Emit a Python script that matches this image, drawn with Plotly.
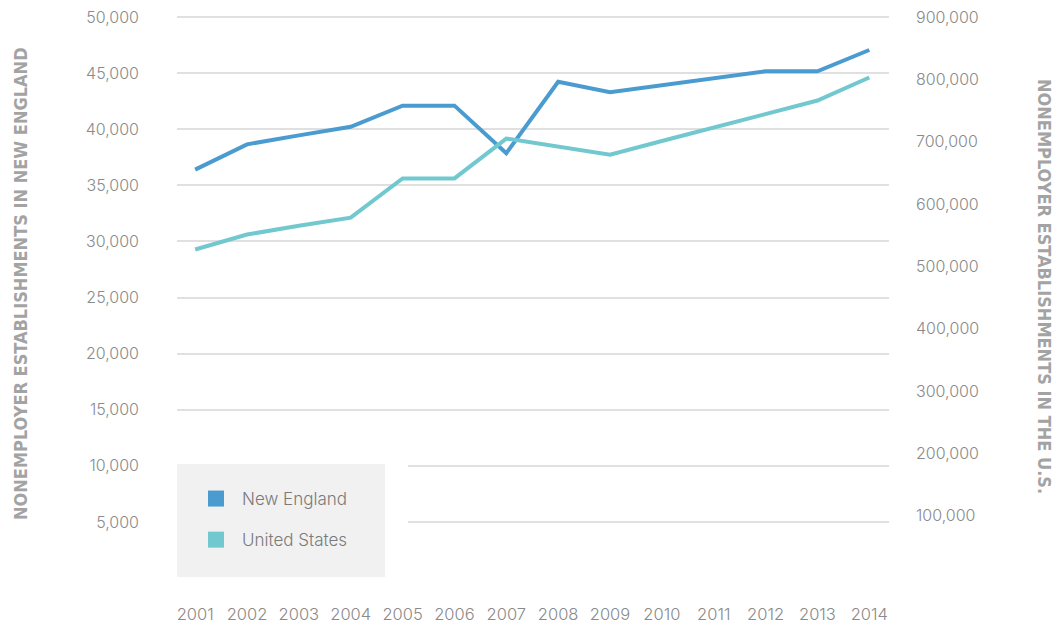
import plotly.graph_objects as go

years = [2001, 2002, 2003, 2004, 2005, 2006, 2007, 2008, 2009, 2010, 2011, 2012, 2013, 2014]
new_england = [36400, 38650, 39450, 40220, 42100, 42100, 37850, 44230, 43290, 43910, 44530, 45160, 45160, 47060]
united_states = [527000, 551000, 565000, 578000, 641000, 641000, 705000, 692000, 679000, 701000, 723000, 745000, 766000, 803000]

left_ticks = [0, 5000, 10000, 15000, 20000, 25000, 30000, 35000, 40000, 45000, 50000]
left_text = [""] + [f"{v:,}" for v in left_ticks[1:]]
right_ticks = [0, 100000, 200000, 300000, 400000, 500000, 600000, 700000, 800000, 900000]
right_text = [""] + [f"{v:,}" for v in right_ticks[1:]]

NE_COLOR = "#4a9bcf"
US_COLOR = "#72c8cf"
TICK_COLOR = "#8a8a8a"
TITLE_COLOR = "#a3a3a3"
FONT = "Inter, Lato, 'Open Sans', sans-serif"
TITLE_FONT = "'DejaVu Sans Condensed', 'Liberation Sans Narrow', 'Open Sans', sans-serif"

fig = go.Figure()
fig.add_trace(go.Scatter(x=years, y=new_england, mode="lines", line=dict(color=NE_COLOR, width=4),
                         showlegend=False, yaxis="y"))
fig.add_trace(go.Scatter(x=years, y=united_states, mode="lines", line=dict(color=US_COLOR, width=4),
                         showlegend=False, yaxis="y2"))
# legend entries (square swatches)
fig.add_trace(go.Scatter(x=[None], y=[None], mode="markers", name="New England",
                         marker=dict(symbol="square", size=16, color=NE_COLOR), legendgroup="a"))
fig.add_trace(go.Scatter(x=[None], y=[None], mode="markers", name="United States",
                         marker=dict(symbol="square", size=16, color=US_COLOR), legendgroup="b"))

# page body adds an 8px offset; work in reference pixel coordinates minus 8
OFF = 8
W, H = 1061 - OFF, 629 - OFF
# reference: 0 at y=578, 50,000 at y=17 ; extend plot top by a few px so the top grid line shows
PX_PER_UNIT = (578 - 17) / 50000
TOP_REF = 13
Y_TOP = (578 - TOP_REF) / PX_PER_UNIT
L, R, T, B = 177 - OFF, 889 - OFF, TOP_REF - OFF, 578 - OFF
pw, ph = R - L, B - T

def px(x):
    return (x - OFF - L) / pw

def py(y):
    return (B - (y - OFF)) / ph

tickfont = dict(size=16, color=TICK_COLOR, family=FONT, weight=300)

fig.update_layout(
    width=W, height=H,
    margin=dict(l=L, r=W - R, t=T, b=H - B, pad=0, autoexpand=False),
    paper_bgcolor="white", plot_bgcolor="white",
    font=dict(family=FONT, color=TICK_COLOR, size=16),
    xaxis=dict(range=[2000.65, 2014.38], tickvals=years, ticktext=[str(y) for y in years],
               showgrid=False, zeroline=False, showline=False, ticks="", automargin=False,
               tickfont=dict(tickfont, size=16.5), ticklabelstandoff=24, ticklabeloverflow="allow"),
    yaxis=dict(range=[0, Y_TOP], tickvals=left_ticks, ticktext=left_text, automargin=False,
               showgrid=True, gridcolor="#e0e0e0", gridwidth=2, zeroline=False, showline=False,
               ticks="", tickfont=tickfont, ticklabelstandoff=37, ticklabeloverflow="allow"),
    yaxis2=dict(range=[0, Y_TOP * 18], tickvals=right_ticks, ticktext=right_text, overlaying="y",
                side="right", showgrid=False, zeroline=False, showline=False, ticks="", automargin=False,
                tickfont=tickfont, ticklabelstandoff=26, ticklabeloverflow="allow"),
    legend=dict(x=px(190), y=py(481), xanchor="left", yanchor="top", bgcolor="rgba(0,0,0,0)",
                font=dict(size=17, color="#7a7a7a", family=FONT, weight=300), tracegroupgap=16,
                itemwidth=42),
    shapes=[
        dict(type="rect", xref="paper", yref="paper", x0=px(170), x1=px(408), y0=py(582), y1=py(455),
             fillcolor="white", line=dict(width=0), layer="above"),
        dict(type="rect", xref="paper", yref="paper", x0=px(177), x1=px(385), y0=py(577), y1=py(464),
             fillcolor="#f1f1f1", line=dict(width=0), layer="above"),
    ],
    annotations=[
        dict(text="NONEMPLOYER ESTABLISHMENTS IN NEW ENGLAND", xref="paper", yref="paper",
             x=px(20), y=py(284), textangle=-90, showarrow=False, xanchor="center", yanchor="middle",
             font=dict(family=TITLE_FONT, size=18, color=TITLE_COLOR, weight="bold")),
        dict(text="NONEMPLOYER ESTABLISHMENTS IN THE U.S.", xref="paper", yref="paper",
             x=px(1045), y=py(286), textangle=90, showarrow=False, xanchor="center", yanchor="middle",
             font=dict(family=TITLE_FONT, size=18, color=TITLE_COLOR, weight="bold")),
    ],
)

fig.write_html("out.html")
